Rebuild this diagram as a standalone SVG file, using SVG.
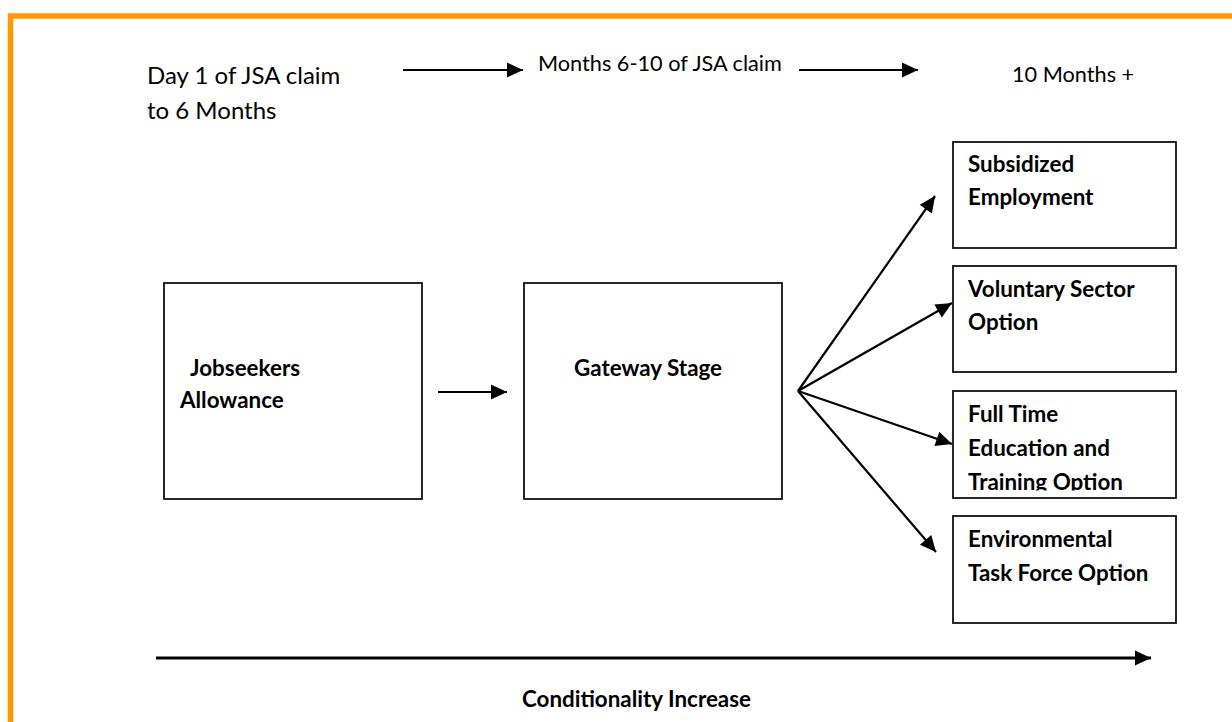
<svg xmlns="http://www.w3.org/2000/svg" width="1232" height="722" viewBox="0 0 1232 722">
<style>
.frame{stroke:#FF9900;stroke-width:5.5;fill:none}
.box{fill:#fff;stroke:#111;stroke-width:1.8}
.t{font-family:Lato,"Liberation Sans",sans-serif;fill:#000;font-size:21.7px}
.b{font-family:Lato,"Liberation Sans",sans-serif;fill:#000;font-size:22.4px;font-weight:bold}
.c{stroke:#000;stroke-width:2.2;fill:none}
.c3{stroke:#000;stroke-width:3.2;fill:none}
</style>
<defs>
<marker id="ah" markerUnits="userSpaceOnUse" markerWidth="18" markerHeight="18" viewBox="0 0 18 18" refX="17" refY="9" orient="auto">
<path d="M1,1.5 L17,9 L1,16.5 Z" fill="#000"/>
</marker>
<clipPath id="clipFT"><rect x="953" y="391" width="223" height="99.5"/></clipPath>
</defs>
<rect width="1232" height="722" fill="#fff"/>
<g id="frame">
<path class="frame" d="M10.5,722 V16 H1232"/>
</g>
<g id="timeline">
<text class="t" x="147" y="84" style="font-size:24px">Day 1 of JSA claim</text>
<text class="t" x="147" y="119" style="font-size:24px">to 6 Months</text>
<text class="t" x="538" y="70.5">Months 6-10 of JSA claim</text>
<text class="t" x="1012" y="81.5">10 Months +</text>
</g>
<g id="connectors">
<line class="c" x1="403" y1="70" x2="523" y2="70" marker-end="url(#ah)"/>
<line class="c" x1="799" y1="70" x2="918" y2="70" marker-end="url(#ah)"/>
<line class="c" x1="438" y1="392" x2="507" y2="392" marker-end="url(#ah)"/>
<line class="c" x1="798" y1="391" x2="935" y2="196" marker-end="url(#ah)"/>
<line class="c" x1="798" y1="391" x2="952" y2="303" marker-end="url(#ah)"/>
<line class="c" x1="798" y1="391" x2="952" y2="444" marker-end="url(#ah)"/>
<line class="c" x1="798" y1="391" x2="936" y2="552" marker-end="url(#ah)"/>
<line class="c3" x1="156" y1="658" x2="1151" y2="658" marker-end="url(#ah)"/>
</g>
<g id="jobseekers">
<rect class="box" x="164" y="283" width="258" height="216"/>
<text class="b" x="190" y="376">Jobseekers</text>
<text class="b" x="180" y="408">Allowance</text>
</g>
<g id="gateway">
<rect class="box" x="524" y="283" width="258" height="216"/>
<text class="b" x="574" y="376">Gateway Stage</text>
</g>
<g id="subsidized">
<rect class="box" x="953" y="142" width="223" height="106"/>
<text class="b" x="968" y="172">Subsidized</text>
<text class="b" x="968" y="205">Employment</text>
</g>
<g id="voluntary">
<rect class="box" x="953" y="266" width="223" height="106"/>
<text class="b" x="968" y="297">Voluntary Sector</text>
<text class="b" x="968" y="330">Option</text>
</g>
<g id="fulltime">
<rect class="box" x="953" y="391" width="223" height="107"/>
<g clip-path="url(#clipFT)">
<text class="b" x="968" y="422">Full Time</text>
<text class="b" x="968" y="456">Education and</text>
<text class="b" x="968" y="490">Training Option</text>
</g>
</g>
<g id="environmental">
<rect class="box" x="953" y="516" width="223" height="107"/>
<text class="b" x="968" y="547">Environmental</text>
<text class="b" x="968" y="581">Task Force Option</text>
</g>
<g id="axis-label">
<text class="b" x="522" y="707">Conditionality Increase</text>
</g>
</svg>
